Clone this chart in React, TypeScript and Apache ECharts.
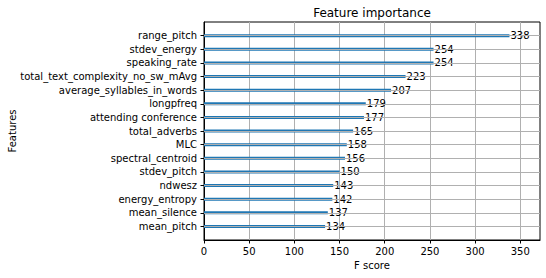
import React, { useEffect, useRef } from "react";
import * as echarts from "echarts";

const features = [
  "range_pitch",
  "stdev_energy",
  "speaking_rate",
  "total_text_complexity_no_sw_mAvg",
  "average_syllables_in_words",
  "longpfreq",
  "attending conference",
  "total_adverbs",
  "MLC",
  "spectral_centroid",
  "stdev_pitch",
  "ndwesz",
  "energy_entropy",
  "mean_silence",
  "mean_pitch",
];
const scores = [338, 254, 254, 223, 207, 179, 177, 165, 158, 156, 150, 143, 142, 137, 134];
const xTicks = [0, 50, 100, 150, 200, 250, 300, 350];

const FONT = "DejaVu Sans";

export default function App() {
  const ref = useRef<HTMLDivElement>(null);
  useEffect(() => {
    if (!ref.current) return;
    const chart = echarts.init(ref.current, undefined, { renderer: "svg" });
    // bottom-to-top order with padding categories at both ends (ylim -1..n)
    const cats = ["", ...features.slice().reverse(), " "];
    const vals: (number | string)[] = ["-", ...scores.slice().reverse(), "-"];
    const xMax = Math.max(...scores) * 1.1;
    chart.setOption({
      animation: false,
      backgroundColor: "#fff",
      textStyle: { fontFamily: FONT },
      grid: {
        left: 204,
        right: 6,
        top: 22,
        bottom: 38,
        show: true,
        borderColor: "#000",
        borderWidth: 1,
        backgroundColor: "#fff",
      },
      graphic: [
        {
          type: "text",
          x: 372,
          y: 13,
          style: {
            text: "Feature importance",
            fill: "#000",
            font: `12px '${FONT}'`,
            align: "center",
            verticalAlign: "middle",
          },
        },
        {
          type: "text",
          x: 12,
          y: 131,
          rotation: Math.PI / 2,
          style: {
            text: "Features",
            fill: "#000",
            font: `10px '${FONT}'`,
            align: "center",
            verticalAlign: "middle",
          },
        },
      ],
      xAxis: {
        type: "value",
        min: 0,
        max: xMax,
        interval: 50,
        name: "F score",
        nameLocation: "middle",
        nameGap: 20,
        nameTextStyle: { color: "#000", fontSize: 10, fontFamily: FONT },
        axisLine: { show: true, lineStyle: { color: "#000", width: 1 } },
        axisTick: {
          show: true,
          length: 3.5,
          inside: false,
          customValues: xTicks,
          lineStyle: { color: "#000", width: 1 },
        },
        axisLabel: {
          customValues: xTicks,
          color: "#000",
          fontSize: 10,
          fontFamily: FONT,
          margin: 6,
        },
        splitLine: { show: true, lineStyle: { color: "#b0b0b0", width: 1 } },
      },
      yAxis: {
        type: "category",
        data: cats,
        boundaryGap: false,
        axisLine: { show: true, lineStyle: { color: "#000", width: 1 } },
        axisTick: {
          show: true,
          length: 3.5,
          interval: (i: number) => i > 0 && i < cats.length - 1,
          lineStyle: { color: "#000", width: 1 },
        },
        axisLabel: {
          color: "#000",
          fontSize: 10,
          fontFamily: FONT,
          margin: 7,
          interval: 0,
        },
        splitLine: { show: false },
      },
      series: [
        {
          type: "bar",
          data: vals,
          barWidth: 3,
          itemStyle: { color: "#1f77b4" },
          label: {
            show: true,
            position: "right",
            distance: 1,
            color: "#000",
            fontSize: 10,
            fontFamily: FONT,
          },
          markLine: {
            silent: true,
            symbol: "none",
            label: { show: false },
            lineStyle: { color: "#b0b0b0", width: 1, type: "solid" },
            data: features.map((f) => ({ yAxis: f })),
          },
        },
      ],
    });
    return () => chart.dispose();
  }, []);
  return (
    <div
      ref={ref}
      style={{ position: "fixed", left: 0, top: 0, width: 546, height: 278 }}
    />
  );
}
